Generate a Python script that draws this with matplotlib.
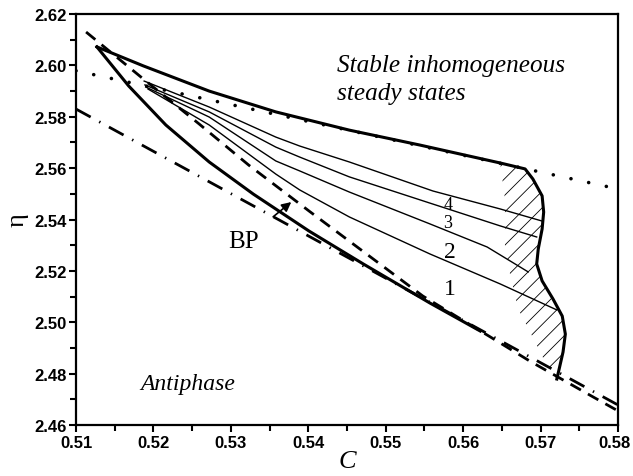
import matplotlib.pyplot as plt
import matplotlib.transforms as mtransforms
from matplotlib.ticker import MultipleLocator, FormatStrFormatter

# --- values (C, eta) ---
# thick boundary: upper branch from the cusp, then the S-shaped right edge
upper_C = [0.5127, 0.5187, 0.5272, 0.5358, 0.5453, 0.5544, 0.5648, 0.5680]
upper_eta = [2.6072, 2.5998, 2.5900, 2.5819, 2.5748, 2.5690, 2.5620, 2.5597]
right_C = [0.5680, 0.5690, 0.5702, 0.5704, 0.5702, 0.5697, 0.5695, 0.5702,
           0.5716, 0.5728, 0.5732, 0.5729, 0.5724, 0.5721]
right_eta = [2.5597, 2.5558, 2.5492, 2.5429, 2.5363, 2.5285, 2.5227, 2.5161,
             2.5091, 2.5024, 2.4954, 2.4884, 2.4818, 2.4779]

# thick lower branch from the cusp
lower_C = [0.5127, 0.5168, 0.5216, 0.5272, 0.5329, 0.5401, 0.5471, 0.5557, 0.5622]
lower_eta = [2.6072, 2.5920, 2.5768, 2.5624, 2.5499, 2.5355, 2.5227, 2.5075, 2.4966]

# thin curves 1..4
c4_C = [0.5188, 0.5272, 0.5358, 0.5389, 0.5453, 0.5561, 0.5648, 0.5702]
c4_eta = [2.5939, 2.5838, 2.5721, 2.5686, 2.5624, 2.5511, 2.5441, 2.5394]
c3_C = [0.5189, 0.5272, 0.5358, 0.5389, 0.5453, 0.5557, 0.5648, 0.5695]
c3_eta = [2.5924, 2.5819, 2.5682, 2.5643, 2.5566, 2.5464, 2.5375, 2.5332]
c2_C = [0.5190, 0.5272, 0.5358, 0.5389, 0.5453, 0.5557, 0.5631, 0.5684]
c2_eta = [2.5916, 2.5799, 2.5628, 2.5589, 2.5507, 2.5383, 2.5293, 2.5196]
c1_C = [0.5193, 0.5272, 0.5358, 0.5389, 0.5453, 0.5557, 0.5648, 0.5721]
c1_eta = [2.5908, 2.5768, 2.5577, 2.5515, 2.5410, 2.5266, 2.5149, 2.5048]

# dashed, dash-dot and dotted lines
dash_C = [0.5113, 0.5187, 0.5259, 0.5323, 0.5401, 0.5484, 0.5548, 0.5635,
          0.5686, 0.5768, 0.5800]
dash_eta = [2.6130, 2.5947, 2.5772, 2.5612, 2.5433, 2.5246, 2.5102, 2.4943,
            2.4849, 2.4709, 2.4655]
dashdot_C = [0.510, 0.580]
dashdot_eta = [2.5830, 2.4678]
dot_C = [0.510, 0.580]
dot_eta = [2.5979, 2.5519]

# left edge of the hatched area (bottom to top)
hatch_left_C = [0.5721, 0.5706, 0.5689, 0.5671, 0.5661, 0.5654, 0.5654, 0.5648]
hatch_left_eta = [2.4779, 2.4845, 2.4947, 2.5052, 2.5180, 2.5297, 2.5480, 2.5616]

serif = 'Liberation Serif'
plt.rcParams['hatch.linewidth'] = 0.6

fig = plt.figure(figsize=(6.33, 4.77), dpi=100)
ax = fig.add_axes([0.1201, 0.1069, 0.8562, 0.8616])

# hatched region: top of boundary + S edge + left edge back up
poly_C = upper_C[-2:] + right_C[1:] + hatch_left_C[1:]
poly_eta = upper_eta[-2:] + right_eta[1:] + hatch_left_eta[1:]
ax.fill(poly_C, poly_eta, facecolor='none', edgecolor='black', linewidth=0, hatch='//')

ax.plot(upper_C + right_C[1:], upper_eta + right_eta[1:], color='black', lw=2.2,
        solid_joinstyle='round')
ax.plot(lower_C, lower_eta, color='black', lw=2.2, solid_joinstyle='round')
for cc, ee in [(c1_C, c1_eta), (c2_C, c2_eta), (c3_C, c3_eta), (c4_C, c4_eta)]:
    ax.plot(cc, ee, color='black', lw=1.0)

ax.plot(dash_C, dash_eta, color='black', lw=2.0, linestyle=(0, (4.3, 2.9)))
ax.plot(dashdot_C, dashdot_eta, color='black', lw=2.0, linestyle=(0, (6, 3.5, 0.5, 3.5)))
ax.plot(dot_C, dot_eta, color='black', lw=2.6, linestyle=(0, (0.01, 5)),
        dash_capstyle='round')

# texts
ax.text(0.5437, 2.5978, 'Stable inhomogeneous', fontsize=18.2, family=serif,
        style='italic', va='baseline')
ax.text(0.5437, 2.5869, 'steady states', fontsize=18.2, family=serif,
        style='italic', va='baseline')
ax.text(0.5183, 2.4740, 'Antiphase', fontsize=17, family=serif,
        style='italic', va='baseline')
ax.text(0.5580, 2.5460, '4', fontsize=13, family=serif, ha='center', va='center')
ax.text(0.5580, 2.5390, '3', fontsize=13, family=serif, ha='center', va='center')
ax.text(0.5583, 2.5277, '2', fontsize=17, family=serif, ha='center', va='center')
ax.text(0.5583, 2.5130, '1', fontsize=17, family=serif, ha='center', va='center')
ax.annotate('BP', xy=(0.5378, 2.5468), xytext=(0.5316, 2.5316), fontsize=18,
            family=serif, ha='center', va='center',
            arrowprops=dict(arrowstyle='-|>', color='black', lw=1.2,
                            shrinkA=12, shrinkB=0, mutation_scale=14))

ax.set_xlim(0.51, 0.58)
ax.set_ylim(2.46, 2.62)
ax.xaxis.set_major_locator(MultipleLocator(0.01))
ax.xaxis.set_minor_locator(MultipleLocator(0.005))
ax.yaxis.set_major_locator(MultipleLocator(0.02))
ax.yaxis.set_minor_locator(MultipleLocator(0.01))
ax.xaxis.set_major_formatter(FormatStrFormatter('%.2f'))
ax.yaxis.set_major_formatter(FormatStrFormatter('%.2f'))
ax.tick_params(which='major', length=5, width=1.5, direction='out', pad=2)
ax.tick_params(which='minor', length=4, width=1.5, direction='out')
for lab in ax.get_xticklabels() + ax.get_yticklabels():
    lab.set_fontfamily('Liberation Sans')
    lab.set_fontweight('bold')
    lab.set_fontsize(12)
for sp in ax.spines.values():
    sp.set_linewidth(1.6)

# keep the last x tick label inside the picture
fig.canvas.draw()
for t in ax.get_xticklabels():
    if t.get_text() == '0.58':
        t.set_transform(t.get_transform() +
                        mtransforms.ScaledTranslation(-3 / 100, 0, fig.dpi_scale_trans))

ax.set_xlabel('C', fontsize=19, family=serif, style='italic', labelpad=0)
ax.set_ylabel('η', fontsize=19, family=serif, labelpad=4)

fig.savefig('out.png', dpi=100)
